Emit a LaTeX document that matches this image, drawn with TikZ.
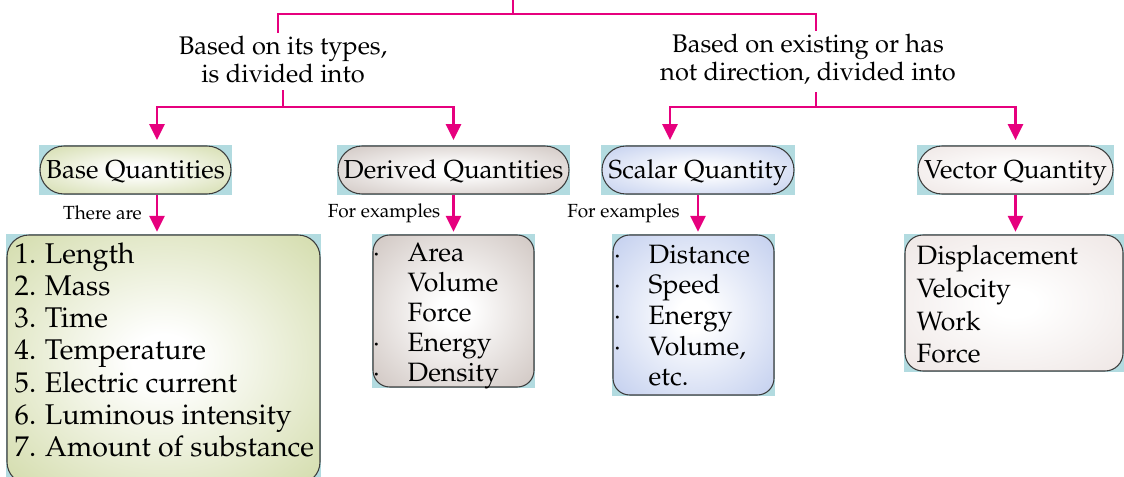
\documentclass[tikz,border=0pt]{standalone}
\usepackage[T1]{fontenc}
\renewcommand{\rmdefault}{ppl}
\usetikzlibrary{arrows.meta,calc,backgrounds}
\definecolor{mag}{RGB}{230,0,126}
\definecolor{bgblue}{RGB}{178,219,224}
\definecolor{edge}{RGB}{60,60,60}
\definecolor{cBase}{RGB}{205,215,160}
\definecolor{cDer}{RGB}{201,190,185}
\definecolor{cSca}{RGB}{186,200,236}
\definecolor{cVec}{RGB}{236,227,225}
\colorlet{shcol}{cBase}
\pgfdeclareradialshading[shcol]{soft}{\pgfpoint{0bp}{0bp}}{color(0bp)=(white); color(5bp)=(white); color(40bp)=(shcol); color(50bp)=(shcol)}
\newcommand{\bul}{\leavevmode\llap{\textperiodcentered\hspace{21pt}}}
\begin{document}
\begin{tikzpicture}[x=0.75pt,y=-0.75pt,
  sh/.style={/utils/exec={\colorlet{shcol}{#1}}, shade, shading=soft},
  pill/.style={draw=edge, line width=0.8pt, rounded corners=18pt, minimum height=36pt, inner sep=0pt,
    font=\fontsize{19.5}{23}\selectfont, text height=13.5pt, text depth=0pt},
  listbox/.style={draw=edge, line width=0.8pt, inner sep=0pt},
  listtext/.style={anchor=north west, align=left, inner sep=0pt},
  link/.style={draw=mag, line width=2pt},
  arr/.style={link, -{Triangle[length=12pt,width=11.25pt]}},
  lbl/.style={font=\fontsize{19.1}{21}\selectfont, align=center, inner sep=0pt},
  small/.style={font=\fontsize{14.25}{16}\selectfont, inner sep=0pt, text height=9.8pt, text depth=0pt}]
\useasboundingbox (0,0) rectangle (1124,477);

% category pills
\node[pill, sh=cBase, minimum width=143.25pt] (base) at (135.5,170) {Base Quantities};
\node[pill, sh=cDer, minimum width=173.25pt] (derived) at (453.5,170) {Derived Quantities};
\node[pill, sh=cSca, minimum width=144pt] (scalar) at (698,170) {Scalar Quantity};
\node[pill, sh=cVec, minimum width=146.25pt] (vector) at (1015.5,170) {Vector Quantity};

% list boxes
\node[listbox, sh=cBase, rounded corners=16.5pt, minimum width=234.75pt, minimum height=186.75pt] (baselist) at (163.5,359.5) {};
\node[listbox, sh=cDer, rounded corners=12.5pt, minimum width=120.75pt, minimum height=114pt] (derivedlist) at (453.5,311) {};
\node[listbox, sh=cSca, rounded corners=12.5pt, minimum width=120.75pt, minimum height=120pt] (scalarlist) at (693.5,315) {};
\node[listbox, sh=cVec, rounded corners=13.5pt, minimum width=163.5pt, minimum height=102pt] (vectorlist) at (1014,303) {};

\begin{scope}[on background layer]
\foreach \n in {base,derived,scalar,vector,baselist,derivedlist,scalarlist,vectorlist}
  \fill[bgblue] (\n.south west) rectangle (\n.north east);
\end{scope}

% list texts
\node[listtext, font=\fontsize{21.4}{24.15}\selectfont] (baseT) at ($(baselist.north west)+(8,8)$)
  {1. Length\\2. Mass\\3. Time\\4. Temperature\\5. Electric current\\6. Luminous intensity\\7. Amount of substance};
\node[listtext, font=\fontsize{19.9}{22.5}\selectfont] (derivedT) at ($(derivedlist.north west)+(35,8)$)
  {\bul Area\\Volume\\Force\\\bul Energy\\\bul Density};
\node[listtext, font=\fontsize{19.9}{23}\selectfont] (scalarT) at ($(scalarlist.north west)+(36,10)$)
  {\bul Distance\\\bul Speed\\\bul Energy\\\bul Volume,\\etc.};
\node[listtext, font=\fontsize{19.9}{24.5}\selectfont] (vectorT) at ($(vectorlist.north west)+(12,11)$)
  {Displacement\\Velocity\\Work\\Force};

% labels
\node[lbl] (lblL) at (283,59.5) {Based on its types,\\is divided into};
\node[lbl] (lblR) at (808,59.5) {Based on existing or has\\not direction, divided into};
\node[small] (there) at (102.5,212.5) {There are};
\node[small] (fex1) at (384,211) {For examples};
\node[small] (fex2) at (623.5,211) {For examples};

% connectors
\coordinate (root) at (513,-2);
\coordinate (hubT) at (513,14);
\coordinate (hubL) at (283,107);
\coordinate (hubR) at (816,107);
\draw[link] (root) -- (hubT);
\draw[link] (hubT) -| ($(lblL.north)+(-5,-3)$);
\draw[link] (hubT) -| ($(lblR.north)+(8,-3)$);
\draw[link] ($(lblL.south)+(0,7)$) -- (hubL);
\draw[link] ($(lblR.south)+(8,7)$) -- (hubR);
\draw[arr, shorten >=4pt] (hubL) -| ($(base.north)+(21.5,0)$);
\draw[arr, shorten >=4pt] (hubL) -| (derived.north);
\draw[arr, shorten >=4pt] (hubR) -| ($(scalar.north)+(-28,0)$);
\draw[arr, shorten >=4pt] (hubR) -| (vector.north);

\coordinate (bA) at ($(base.south)+(21.5,0)$);
\draw[arr, shorten >=2pt] (bA) -- (bA |- baselist.north);
\draw[arr, shorten >=2pt] (derived.south) -- (derived.south |- derivedlist.north);
\draw[arr, shorten >=2pt] (scalar.south) -- (scalar.south |- scalarlist.north);
\draw[arr, shorten >=2pt] (vector.south) -- (vector.south |- vectorlist.north);
\end{tikzpicture}
\end{document}
